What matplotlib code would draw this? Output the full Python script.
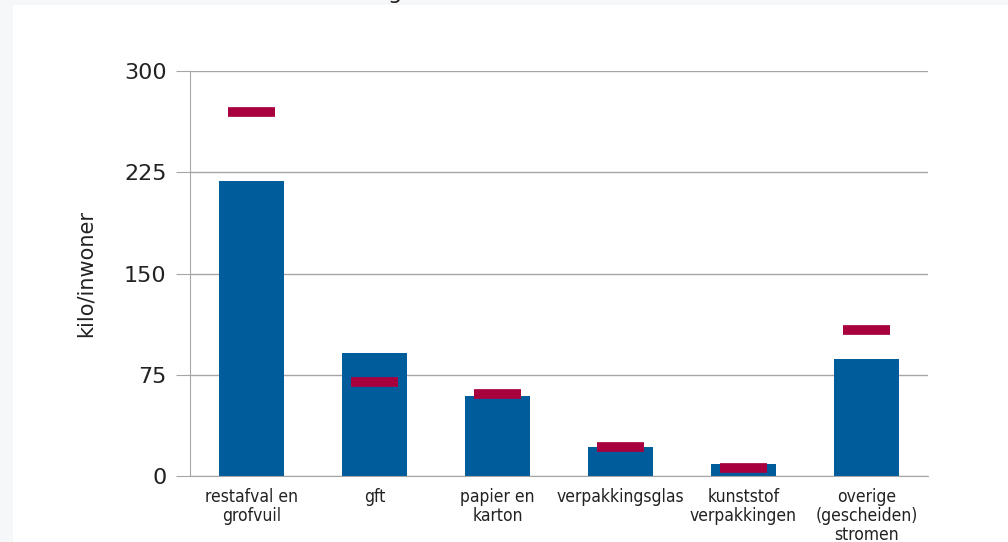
import numpy as np
import matplotlib.pyplot as plt
from matplotlib.patches import Rectangle

categories = ['restafval en\ngrofvuil', 'gft', 'papier en\nkarton', 'verpakkingsglas',
              'kunststof\nverpakkingen', 'overige\n(gescheiden)\nstromen']
bar_values = [218.5, 91, 59, 21.5, 9, 87]
marker_values = [270, 70, 61, 21.5, 6, 108]
yticks = [0, 75, 150, 225, 300]

BLUE = '#015c9c'
RED = '#a8003f'
GRID = '#a6a6a6'
TEXT = '#222222'

fig = plt.figure(figsize=(10.08, 5.42), dpi=100, facecolor='white')

# light grey screenshot edges
fig.patches.append(Rectangle((0, 0), 13 / 1008, 1, transform=fig.transFigure,
                             facecolor='#f6f7f9', edgecolor='none', zorder=0))
fig.patches.append(Rectangle((0, 1 - 5 / 542), 1, 5 / 542, transform=fig.transFigure,
                             facecolor='#f6f7f9', edgecolor='none', zorder=0))

ax = fig.add_axes([190 / 1008, 1 - 476 / 542, (928 - 190) / 1008, (476 - 71) / 542])

x = np.arange(len(categories))
ax.bar(x, bar_values, width=0.53, color=BLUE, zorder=2)
ax.hlines(marker_values, x - 0.19, x + 0.19, color=RED, linewidth=7, zorder=3)

ax.set_xlim(-0.5, len(categories) - 0.5)
ax.set_ylim(0, 300)
ax.set_yticks(yticks)
ax.set_yticklabels([str(v) for v in yticks], fontsize=16, color=TEXT)
ax.yaxis.grid(True, color=GRID, linewidth=1)
ax.set_axisbelow(True)

ax.set_xticks(x)
ax.set_xticklabels(categories, fontsize=12.5, fontstretch='condensed',
                   linespacing=1.05, color=TEXT)
ax.tick_params(axis='x', length=0, pad=9)
ax.tick_params(axis='y', length=10, color=GRID, pad=7)

for side in ['top', 'right']:
    ax.spines[side].set_visible(False)
ax.spines['left'].set_color(GRID)
ax.spines['bottom'].set_color(GRID)

ax.set_ylabel('kilo/inwoner', fontsize=15, color=TEXT, labelpad=20)

# remnant of the cut-off title
fig.text(395 / 1008, 1 + 1 / 542, 'g', fontsize=16, ha='center', va='baseline', color=TEXT)

plt.savefig('out.png', dpi=100, facecolor='white')
